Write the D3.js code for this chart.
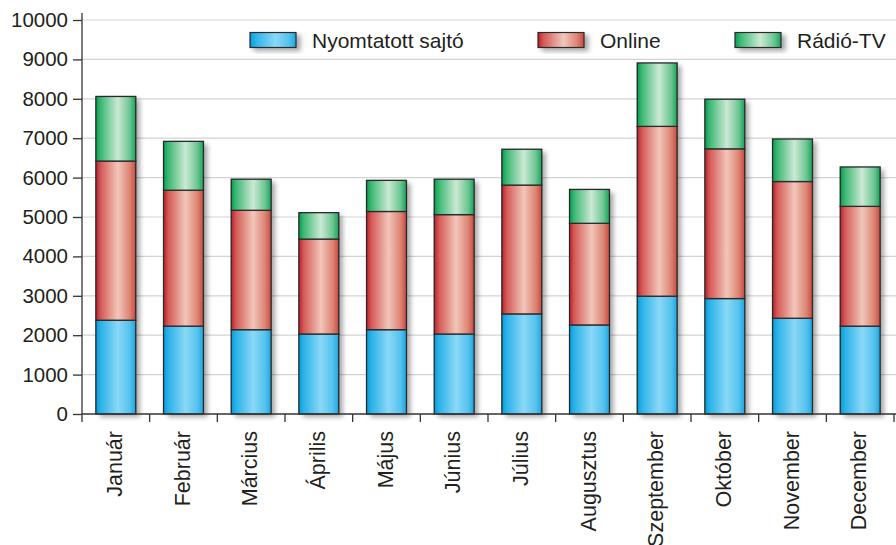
<!DOCTYPE html>
<html><head><meta charset="utf-8">
<script src="https://cdn.jsdelivr.net/npm/d3@7"></script>
<style>body{margin:0;background:#fff}svg{display:block;font-family:"Liberation Sans",Arial,sans-serif}</style>
</head><body><svg id="c" width="896" height="545"></svg>
<script>
const months = ["Január","Február","Március","Április","Május","Június","Július","Augusztus","Szeptember","Október","November","December"];
const seriesNames = ["Nyomtatott sajtó","Online","Rádió-TV"];
const nyomtatott = [2380,2230,2140,2030,2140,2030,2540,2260,2990,2930,2430,2230];
const online     = [4040,3450,3030,2410,3000,3030,3270,2580,4310,3800,3470,3040];
const radioTV    = [1640,1240, 790, 670, 790, 900, 910, 860,1610,1260,1080,1000];
const yTicks = [0,1000,2000,3000,4000,5000,6000,7000,8000,9000,10000];

const rows = months.map((m,i)=>({month:m, "Nyomtatott sajtó":nyomtatott[i], "Online":online[i], "Rádió-TV":radioTV[i]}));
const svg = d3.select("#c");
const m = {l:82, r:2, t:20, b:131};
const x = d3.scaleBand().domain(months).range([m.l, 894]).paddingInner(0.41).paddingOuter(0.205);
const y = d3.scaleLinear().domain([0,10000]).range([414, 20]);

const defs = svg.append("defs");
const grads = [
  {id:"gBlue", stops:[[0,"#009ddc"],[0.12,"#2cb2e8"],[0.55,"#8ad8f7"],[0.85,"#55c2ee"],[1,"#1aa6e0"]]},
  {id:"gRed", stops:[[0,"#be1e2d"],[0.12,"#d45a56"],[0.55,"#f2c6ba"],[0.85,"#dc8474"],[1,"#c9483e"]]},
  {id:"gGreen", stops:[[0,"#00a04f"],[0.12,"#3eb874"],[0.55,"#cbe9d4"],[0.85,"#6cc592"],[1,"#15a45a"]]}
];
grads.forEach(g=>{
  const lg = defs.append("linearGradient").attr("id",g.id).attr("x1","0%").attr("x2","100%").attr("y1","0%").attr("y2","0%");
  g.stops.forEach(s=>lg.append("stop").attr("offset",s[0]).attr("stop-color",s[1]));
});
const f = defs.append("filter").attr("id","sh").attr("x","-20%").attr("y","-20%").attr("width","160%").attr("height","160%");
f.append("feGaussianBlur").attr("in","SourceAlpha").attr("stdDeviation",2.5).attr("result","b");
f.append("feOffset").attr("in","b").attr("dx",4).attr("dy",3).attr("result","o");
f.append("feComponentTransfer").attr("in","o").attr("result","o2").append("feFuncA").attr("type","linear").attr("slope",0.35);
const mg = f.append("feMerge"); mg.append("feMergeNode").attr("in","o2"); mg.append("feMergeNode").attr("in","SourceGraphic");

// grid
svg.append("g").selectAll("line").data(yTicks.filter(d=>d>0)).join("line")
  .attr("x1",m.l).attr("x2",896).attr("y1",d=>y(d)).attr("y2",d=>y(d))
  .attr("stroke","#d3d3d3").attr("stroke-width",1.2);

const fills = {"Nyomtatott sajtó":"url(#gBlue)","Online":"url(#gRed)","Rádió-TV":"url(#gGreen)"};
const stack = d3.stack().keys(seriesNames)(rows);
const barG = svg.append("g");
const tot = d=>d["Nyomtatott sajtó"]+d["Online"]+d["Rádió-TV"];
barG.selectAll("rect.sh").data(rows).join("rect").attr("class","sh")
  .attr("x",d=>x(d.month)).attr("width",x.bandwidth())
  .attr("y",d=>y(tot(d))).attr("height",d=>y(0)-y(tot(d)))
  .attr("fill","#000").attr("filter","url(#sh)");
stack.forEach(s=>{
  barG.append("g").selectAll("rect").data(s).join("rect")
    .attr("x",d=>x(d.data.month)).attr("width",x.bandwidth())
    .attr("y",d=>y(d[1])).attr("height",d=>y(d[0])-y(d[1]))
    .attr("fill",fills[s.key]).attr("stroke","#2a2a2a").attr("stroke-width",1.3);
});

// y axis
const ya = svg.append("g").attr("transform",`translate(${m.l},0)`)
  .call(d3.axisLeft(y).tickValues(yTicks).tickSize(9).tickPadding(5).tickFormat(d3.format("d")));
ya.select(".domain").remove();
ya.append("line").attr("x1",0).attr("x2",0).attr("y1",13).attr("y2",414).attr("stroke","#333").attr("stroke-width",1.3);
ya.selectAll(".tick line").attr("stroke","#333").attr("stroke-width",1.3);
ya.selectAll("text").attr("font-size",20.5).attr("fill","#231f20").attr("font-family","Liberation Sans, Arial, sans-serif");

// x axis
const xa = svg.append("g").attr("transform",`translate(0,414)`);
xa.append("line").attr("x1",m.l).attr("x2",896).attr("y1",0).attr("y2",0).attr("stroke","#333").attr("stroke-width",1.3);
const bounds = months.map(mm=>x(mm)-x.step()*x.paddingInner()/2).concat([894]);
xa.selectAll("line.t").data(bounds).join("line").attr("class","t")
  .attr("x1",d=>d).attr("x2",d=>d).attr("y1",0).attr("y2",8).attr("stroke","#333").attr("stroke-width",1.3);
xa.selectAll("text").data(months).join("text")
  .attr("transform",d=>`translate(${x(d)+x.bandwidth()/2+6},17) rotate(-90)`)
  .attr("text-anchor","end").attr("font-size",21.5).attr("fill","#231f20").text(d=>d);

// legend
const legX = [250, 538, 735];
const lg = svg.append("g");
seriesNames.forEach((s,i)=>{
  lg.append("rect").attr("x",legX[i]).attr("y",32.5).attr("width",46).attr("height",15)
    .attr("fill",fills[s]).attr("stroke","#2a2a2a").attr("stroke-width",1.2).attr("filter","url(#sh)");
  lg.append("text").attr("x",legX[i]+62).attr("y",48).attr("font-size",21).attr("fill","#231f20").text(s);
});
</script></body></html>
